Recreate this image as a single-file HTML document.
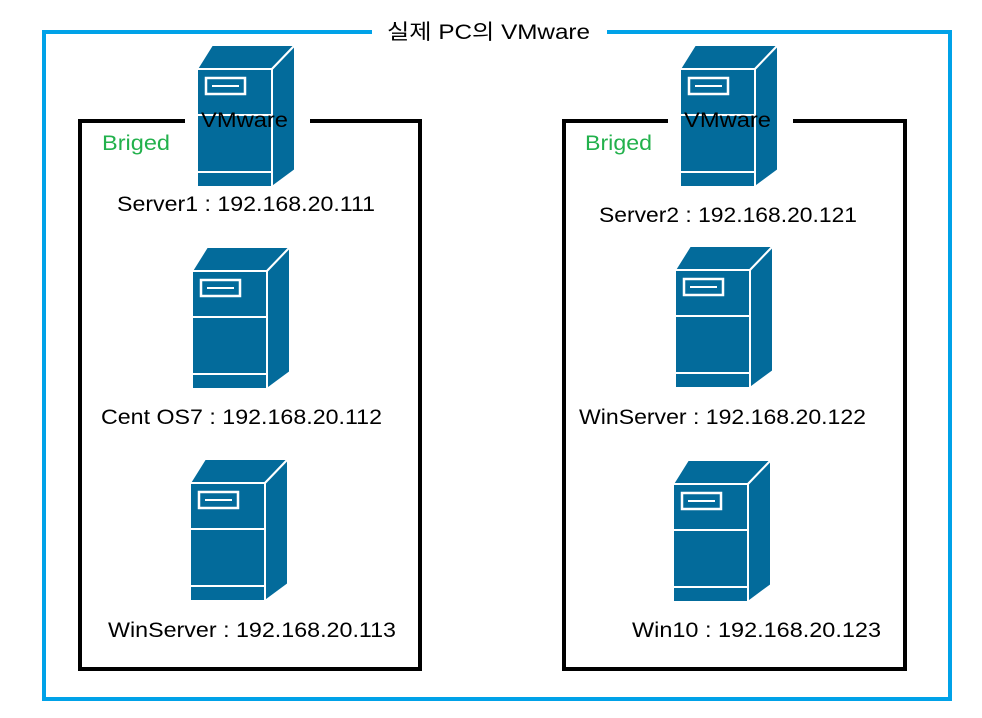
<!DOCTYPE html>
<html><head><meta charset="utf-8"><style>
html,body{margin:0;padding:0;background:#fff;}
svg{display:block;}
text{font-family:"Liberation Sans","Noto Sans CJK KR",sans-serif;font-size:21px;fill:#000;}
</style></head><body>
<svg width="982" height="718" xmlns="http://www.w3.org/2000/svg">
<defs>
<g id="srv">
 <polygon points="0,24 15,0 98,0 75,24" fill="#036b9b" stroke="#fff" stroke-width="2"/>
 <polygon points="75,24 98,0 98,125 75,142" fill="#036b9b" stroke="#fff" stroke-width="2"/>
 <rect x="0" y="24" width="75" height="118" fill="#036b9b" stroke="#fff" stroke-width="2"/>
 <line x1="0" y1="70" x2="75" y2="70" stroke="#fff" stroke-width="2"/>
 <line x1="0" y1="127" x2="75" y2="127" stroke="#fff" stroke-width="2"/>
 <rect x="9" y="33" width="39" height="16" fill="none" stroke="#fff" stroke-width="2.5"/>
 <line x1="15" y1="41" x2="42" y2="41" stroke="#fff" stroke-width="2"/>
</g>
</defs>
<polyline points="372,32 44,32 44,699 950,699 950,32 607,32" fill="none" stroke="#00a2e8" stroke-width="4"/>
<text x="387" y="39" textLength="203" lengthAdjust="spacingAndGlyphs">실제 PC의 VMware</text>

<polyline points="185,121 80,121 80,669 420,669 420,121 310,121" fill="none" stroke="#000" stroke-width="4"/>
<polyline points="668,121 564,121 564,669 905,669 905,121 793,121" fill="none" stroke="#000" stroke-width="4"/>

<use href="#srv" x="197" y="45"/>
<use href="#srv" x="192" y="247"/>
<use href="#srv" x="190" y="459"/>
<use href="#srv" x="680" y="45"/>
<use href="#srv" x="675" y="246"/>
<use href="#srv" x="673" y="460"/>

<text x="201" y="127" textLength="87" lengthAdjust="spacingAndGlyphs">VMware</text>
<text x="684" y="127" textLength="87" lengthAdjust="spacingAndGlyphs">VMware</text>
<text x="102" y="150" textLength="68" lengthAdjust="spacingAndGlyphs" style="fill:#22b14c">Briged</text>
<text x="585" y="150" textLength="67" lengthAdjust="spacingAndGlyphs" style="fill:#22b14c">Briged</text>

<text x="117" y="211" textLength="258" lengthAdjust="spacingAndGlyphs">Server1 : 192.168.20.111</text>
<text x="101" y="424" textLength="281" lengthAdjust="spacingAndGlyphs">Cent OS7 : 192.168.20.112</text>
<text x="108" y="637" textLength="288" lengthAdjust="spacingAndGlyphs">WinServer : 192.168.20.113</text>
<text x="599" y="222" textLength="258" lengthAdjust="spacingAndGlyphs">Server2 : 192.168.20.121</text>
<text x="579" y="424" textLength="287" lengthAdjust="spacingAndGlyphs">WinServer : 192.168.20.122</text>
<text x="632" y="637" textLength="249" lengthAdjust="spacingAndGlyphs">Win10 : 192.168.20.123</text>
</svg>
</body></html>
